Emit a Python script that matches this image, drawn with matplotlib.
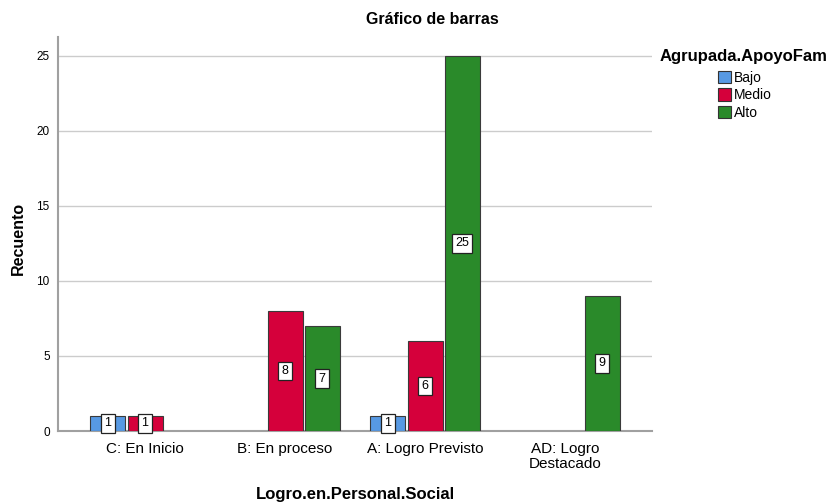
import matplotlib
matplotlib.use("Agg")
import matplotlib.pyplot as plt
import numpy as np
from matplotlib.patches import Patch

plt.rcParams['font.family'] = ['Liberation Sans', 'DejaVu Sans']

categories = ["C: En Inicio", "B: En proceso", "A: Logro Previsto", "AD: Logro\nDestacado"]
series_names = ["Bajo", "Medio", "Alto"]
bajo = [1, 0, 1, 0]
medio = [1, 8, 6, 0]
alto = [0, 7, 25, 9]
colors = ["#5799e3", "#d5003b", "#2a8a2a"]
yticks = [0, 5, 10, 15, 20, 25]

W, H = 830, 504
fig = plt.figure(figsize=(W / 100, H / 100), dpi=100)
ax_left, ax_right, ax_top, ax_bot = 58, 652, 37, 431
ax = fig.add_axes([ax_left / W, 1 - ax_bot / H, (ax_right - ax_left) / W, (ax_bot - ax_top) / H])

x = np.arange(len(categories))
slot = 0.265
bw = 0.25
for i, (vals, c) in enumerate(zip([bajo, medio, alto], colors)):
    off = (i - 1) * slot
    for xi, v in zip(x, vals):
        if v > 0:
            ax.bar(xi + off, v, width=bw, color=c, edgecolor="#3a3a3a", linewidth=0.8, zorder=3)
            ax.text(xi + off, v / 2, str(v), ha="center", va="center", fontsize=9, zorder=4,
                    bbox=dict(boxstyle="square,pad=0.25", facecolor="white", edgecolor="#222222", linewidth=0.9))

ylim_top = (ax_bot - ax_top) / 15.0
ax.set_ylim(0, ylim_top)
ax.set_xlim((ax_left - 145) / 140, (ax_right - 145) / 140)
ax.set_yticks(yticks)
ax.set_yticklabels([str(t) for t in yticks], fontsize=8.5)
ax.tick_params(axis="y", length=0, pad=6)
ax.set_xticks(x)
ax.set_xticklabels(categories, fontsize=11, linespacing=1.1)
ax.tick_params(axis="x", length=0, pad=8)
for t in yticks[1:]:
    ax.axhline(t, color="#cccccc", linewidth=1, zorder=1)
for s in ["top", "right"]:
    ax.spines[s].set_visible(False)
ax.spines["left"].set_color("#a0a0a0")
ax.spines["left"].set_linewidth(1.5)
ax.spines["bottom"].set_color("#a0a0a0")
ax.spines["bottom"].set_linewidth(1.5)

fig.text(18 / W, 1 - 238 / H, "Recuento", rotation=90, ha="center", va="center", fontsize=11.5, fontweight="bold")
fig.text(355 / W, 1 - 495 / H, "Logro.en.Personal.Social", ha="center", va="center", fontsize=12, fontweight="bold")
fig.text(432 / W, 1 - 20 / H, "Gráfico de barras", ha="center", va="center", fontsize=11.5, fontweight="bold")
fig.text(744 / W, 1 - 56 / H, "Agrupada.ApoyoFam", ha="center", va="center", fontsize=12, fontweight="bold")

handles = [Patch(facecolor=c, edgecolor="#333333", linewidth=0.8) for c in colors]
fig.legend(handles, series_names, loc="upper left", bbox_to_anchor=(718 / W, 1 - 71 / H),
           frameon=False, fontsize=10, handlelength=0.9, handleheight=1.0, handletextpad=0.25,
           labelspacing=0.25, borderpad=0, borderaxespad=0)

fig.savefig("out.png", dpi=100)
